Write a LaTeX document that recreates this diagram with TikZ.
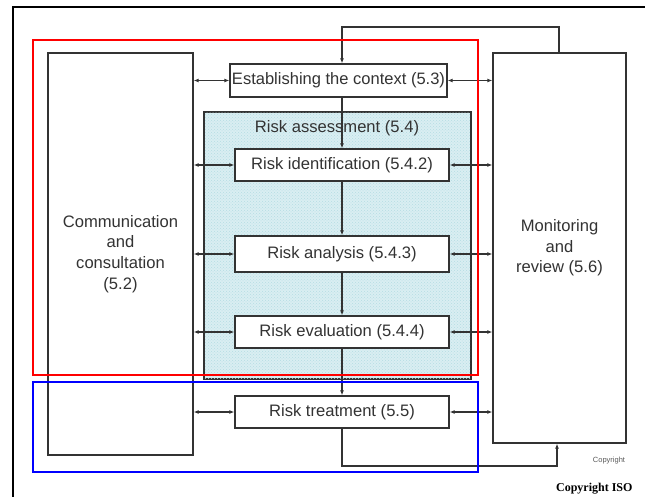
\documentclass[tikz,border=0pt]{standalone}
\usepackage{fontspec}
\setmainfont{Liberation Sans}
\newfontfamily\isofont{Liberation Serif}
\usetikzlibrary{arrows.meta,patterns}
\definecolor{ink}{HTML}{333333}
\definecolor{shade}{HTML}{D9EEF2}
\definecolor{hatch}{HTML}{B5DCE3}
\tikzset{
  box/.style={draw=ink,line width=1.3pt,fill=white,inner sep=0pt,font=\fontsize{16.6}{20.7}\selectfont,text=ink,align=center},
  flow/.style={draw=ink,line width=1.1pt,-{Latex[length=5pt,width=4pt]}},
  both/.style={draw=ink,line width=1.1pt,{Latex[length=5pt,width=4pt]}-{Latex[length=5pt,width=4pt]}},
  frame/.style={line width=2pt},
}
\begin{document}
\begin{tikzpicture}[x=1pt,y=-1pt]
\useasboundingbox (0,0) rectangle (645,497);
% page frame
\draw[frame,black] (13,497) -- (13,7) -- (645,7);
% risk assessment area
\node[draw=ink,line width=1.5pt,fill=shade,minimum width=267pt,minimum height=267pt,inner sep=0pt] (ra) at (337.5,245.5) {};
\fill[pattern=crosshatch dots,pattern color=hatch] (205,113) rectangle (470,378);
\node[text=ink,font=\fontsize{16.6}{20}\selectfont] (ratitle) at (337,128) {Risk assessment (5.4)};
% side boxes
\node[box,minimum width=145pt,minimum height=402pt] (comm) at (120.5,254) {Communication\\and\\consultation\\(5.2)};
\node[box,minimum width=133pt,minimum height=390pt] (mon) at (559.5,248) {Monitoring\\and\\review (5.6)};
% process boxes
\node[box,minimum width=217pt,minimum height=33pt] (ctx) at (338.5,80.5) {\hspace*{-3pt}\resizebox{213pt}{!}{Establishing the context (5.3)}\hspace*{-3pt}};
\node[box,minimum width=214pt,minimum height=32pt] (ident) at (342,165) {Risk identification (5.4.2)};
\node[box,minimum width=214pt,minimum height=36pt] (anal) at (342,254) {Risk analysis (5.4.3)};
\node[box,minimum width=214pt,minimum height=32pt] (eval) at (342,332) {Risk evaluation (5.4.4)};
\node[box,minimum width=214pt,minimum height=32pt] (treat) at (342,412) {Risk treatment (5.5)};
% main flow
\draw[flow] (ctx.south -| ident.north) -- (ident.north);
\draw[flow] (ident) -- (anal);
\draw[flow] (anal) -- (eval);
\draw[flow] (eval) -- (treat);
% feedback loops
\coordinate (topl) at (342,27);
\coordinate (topr) at (559,27);
\coordinate (botl) at (342,466);
\coordinate (botr) at (557,466);
\draw[flow] (mon.north -| topr) -- (topr) -- (topl) -- (ctx.north -| topl);
\draw[flow] (treat.south) -- (botl) -- (botr) -- (mon.south -| botr);
% links to the side boxes
\foreach \n in {ctx,ident,anal,eval,treat}{
  \draw[both] (comm.east |- \n.west) -- (\n.west);
  \draw[both] (\n.east) -- (mon.west |- \n.east);
}
% highlight frames
\draw[red,line width=1.6pt] (33,40) rectangle (478,375);
\draw[blue,line width=1.6pt] (33,382) rectangle (478,472);
% notices
\node[text=black!65,font=\fontsize{7.5}{8}\selectfont] (cr) at (609,461) {Copyright};
\node[font=\isofont\bfseries\fontsize{12}{14}\selectfont,anchor=east] (iso) at (636,489) {Copyright ISO};
\end{tikzpicture}
\end{document}
